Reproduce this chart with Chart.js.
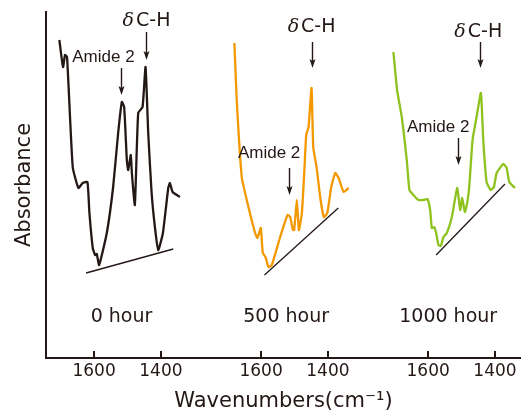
<!DOCTYPE html>
<html>
<head>
<meta charset="utf-8">
<script src="https://cdn.jsdelivr.net/npm/chart.js@4.4.1/dist/chart.umd.min.js"></script>
<style>
  html, body { margin: 0; padding: 0; background: #fff; }
</style>
</head>
<body>
<canvas id="ftir" width="521" height="414"></canvas>
<script>
// spectra, wavenumber (cm-1) and absorbance (arb. units) per ageing time
var panelLabels = ['0 hour', '500 hour', '1000 hour'];
var tickWavenumbers = [1600, 1400];

var wn0 = [1704, 1693, 1687, 1681, 1664, 1647, 1634, 1620, 1614, 1604, 1597, 1592, 1585, 1562, 1543, 1528, 1517, 1510, 1502, 1498, 1490, 1487, 1478, 1468, 1455, 1446, 1438, 1428, 1418, 1408, 1394, 1378, 1373, 1365, 1343];
var abs0 = [3.18, 2.91, 3.03, 3.01, 1.91, 1.70, 1.75, 1.76, 1.45, 1.10, 1.03, 1.04, 0.93, 1.25, 1.71, 2.25, 2.56, 2.51, 1.98, 1.88, 2.03, 1.85, 1.53, 2.45, 2.51, 2.91, 2.25, 1.66, 1.31, 1.08, 1.25, 1.70, 1.75, 1.66, 1.61];

var wn1 = [1680, 1673, 1658, 1643, 1618, 1611, 1601, 1595, 1587, 1578, 1568, 1543, 1521, 1513, 1505, 1501, 1493, 1487, 1478, 1470, 1465, 1458, 1449, 1444, 1434, 1422, 1412, 1402, 1390, 1378, 1368, 1353, 1338];
var abs1 = [3.15, 2.58, 1.81, 1.58, 1.25, 1.20, 1.30, 1.05, 1.01, 0.91, 0.93, 1.21, 1.43, 1.41, 1.28, 1.28, 1.58, 1.28, 1.45, 1.91, 2.23, 2.31, 2.70, 2.11, 1.91, 1.58, 1.41, 1.45, 1.71, 1.85, 1.80, 1.66, 1.70];

var wn2 = [1704, 1693, 1679, 1664, 1656, 1644, 1629, 1614, 1602, 1594, 1589, 1582, 1576, 1569, 1562, 1554, 1544, 1529, 1513, 1504, 1498, 1490, 1483, 1477, 1467, 1455, 1442, 1435, 1425, 1413, 1403, 1395, 1375, 1365, 1357, 1340];
var abs2 = [3.06, 2.68, 2.41, 1.98, 1.68, 1.63, 1.58, 1.58, 1.59, 1.48, 1.30, 1.31, 1.25, 1.13, 1.12, 1.21, 1.25, 1.41, 1.70, 1.48, 1.60, 1.46, 1.55, 1.71, 2.18, 2.41, 2.65, 2.18, 1.76, 1.68, 1.71, 1.85, 1.94, 1.90, 1.76, 1.70];

// baselines drawn under each spectrum
var baseWn = [[1624, 1363], [1590, 1369], [1576, 1370]];
var baseAbs = [[0.85, 1.09], [0.83, 1.50], [1.03, 1.74]];

var lineColors = ['#231815', '#f39800', '#8dc21f'];
var ink = '#231815';
var fontFam = '"DejaVu Sans", sans-serif';

// all three panels share one x axis, each shifted by PANEL_STEP
var PANEL_STEP = 500;
function toX(panel, wn) { return panel * PANEL_STEP + (1600 - wn); }

function spectrum(panel, wns, vals) {
    return wns.map(function (w, i) { return { x: toX(panel, w), y: vals[i] }; });
}

var spectra = [[wn0, abs0], [wn1, abs1], [wn2, abs2]];
var datasets = [];
spectra.forEach(function (s, k) {
    datasets.push({
        data: spectrum(k, s[0], s[1]),
        borderColor: lineColors[k],
        borderWidth: 2.3,
        pointRadius: 0,
        tension: 0.15
    });
    datasets.push({
        data: spectrum(k, baseWn[k], baseAbs[k]),
        borderColor: ink,
        borderWidth: 1.3,
        pointRadius: 0
    });
});

var tickValues = [];
for (var k = 0; k < 3; k++) {
    tickWavenumbers.forEach(function (w) { tickValues.push(toX(k, w)); });
}

// text + arrow annotations
var notes = [
    { panel: 0, wn: 1572, y: 3.01, label: 'amide', arrowWn: 1520, from: 2.90, to: 2.63 },
    { panel: 0, wn: 1443, y: 3.37, label: 'ch', arrowWn: 1446, from: 3.26, to: 2.98 },
    { panel: 1, wn: 1576, y: 2.05, label: 'amide', arrowWn: 1518, from: 1.90, to: 1.63 },
    { panel: 1, wn: 1449, y: 3.31, label: 'ch', arrowWn: 1449, from: 3.16, to: 2.90 },
    { panel: 2, wn: 1570, y: 2.31, label: 'amide', arrowWn: 1512, from: 2.20, to: 1.93 },
    { panel: 2, wn: 1450, y: 3.26, label: 'ch', arrowWn: 1445, from: 3.16, to: 2.90 }
];
var panelLabelPos = [{ x: 82, y: 0.41 }, { x: 575, y: 0.41 }, { x: 1060, y: 0.41 }];

var decorPlugin = {
    id: 'decor',
    afterDraw: function (chart) {
        var ctx = chart.ctx, xs = chart.scales.x, ys = chart.scales.y;
        var bottom = chart.chartArea.bottom;
        ctx.save();
        // inward tick marks
        ctx.strokeStyle = ink;
        ctx.lineWidth = 2;
        tickValues.forEach(function (v) {
            var px = Math.round(xs.getPixelForValue(v));
            ctx.beginPath();
            ctx.moveTo(px, bottom);
            ctx.lineTo(px, bottom - 7);
            ctx.stroke();
        });
        // panel labels
        ctx.fillStyle = ink;
        ctx.textAlign = 'center';
        ctx.textBaseline = 'middle';
        ctx.font = '19px ' + fontFam;
        panelLabels.forEach(function (t, i) {
            ctx.fillText(t, xs.getPixelForValue(panelLabelPos[i].x), ys.getPixelForValue(panelLabelPos[i].y));
        });
        // annotations
        notes.forEach(function (n) {
            var tx = xs.getPixelForValue(toX(n.panel, n.wn));
            var ty = ys.getPixelForValue(n.y);
            if (n.label === 'amide') {
                ctx.font = '17px "Liberation Sans", Arial, sans-serif';
                ctx.textAlign = 'center';
                ctx.fillText('Amide 2', tx, ty);
            } else {
                ctx.font = 'italic 19px "DejaVu Serif", serif';
                var w1 = ctx.measureText('δ').width;
                ctx.font = '19px ' + fontFam;
                var w2 = ctx.measureText('C-H').width;
                var x0 = tx - (w1 + w2 + 2) / 2;
                ctx.textAlign = 'left';
                ctx.font = 'italic 19px "DejaVu Serif", serif';
                ctx.fillText('δ', x0, ty);
                ctx.font = '19px ' + fontFam;
                ctx.fillText('C-H', x0 + w1 + 2, ty);
            }
            var ax = Math.round(xs.getPixelForValue(toX(n.panel, n.arrowWn))) + 0.5;
            var y1 = ys.getPixelForValue(n.from), y2 = ys.getPixelForValue(n.to);
            ctx.lineWidth = 1.4;
            ctx.beginPath();
            ctx.moveTo(ax, y1);
            ctx.lineTo(ax, y2 - 6);
            ctx.stroke();
            ctx.beginPath();
            ctx.moveTo(ax - 3, y2 - 9);
            ctx.lineTo(ax, y2);
            ctx.lineTo(ax + 3, y2 - 9);
            ctx.lineTo(ax, y2 - 7);
            ctx.closePath();
            ctx.fill();
        });
        ctx.restore();
    }
};

Chart.defaults.font.family = fontFam;
Chart.defaults.color = ink;

new Chart(document.getElementById('ftir'), {
    type: 'line',
    data: { datasets: datasets },
    options: {
        responsive: false,
        animation: false,
        devicePixelRatio: 1,
        layout: { padding: { top: 12, right: 0, bottom: 0, left: 0 } },
        plugins: { legend: { display: false }, tooltip: { enabled: false } },
        scales: {
            x: {
                type: 'linear',
                min: -144,
                max: 1278,
                afterBuildTicks: function (s) {
                    s.ticks = tickValues.map(function (v) { return { value: v }; });
                },
                afterFit: function (s) { s.height = 56; },
                ticks: {
                    autoSkip: false,
                    maxRotation: 0,
                    padding: 3,
                    color: ink,
                    font: { size: 17 },
                    callback: function (v) { return 1600 - (v % PANEL_STEP); }
                },
                grid: { display: false, drawTicks: false },
                border: { color: ink, width: 2 },
                title: {
                    display: true,
                    text: 'Wavenumbers(cm⁻¹)',
                    color: ink,
                    font: { size: 21 },
                    padding: { top: 0, bottom: 0 }
                }
            },
            y: {
                min: 0,
                max: 3.46,
                afterFit: function (s) { s.width = 46; },
                ticks: { display: false },
                grid: { display: false, drawTicks: false },
                border: { color: ink, width: 2 },
                title: {
                    display: true,
                    text: 'Absorbance',
                    color: ink,
                    font: { size: 21 },
                    padding: { top: 12, bottom: 0 }
                }
            }
        }
    },
    plugins: [decorPlugin]
});
</script>
</body>
</html>
